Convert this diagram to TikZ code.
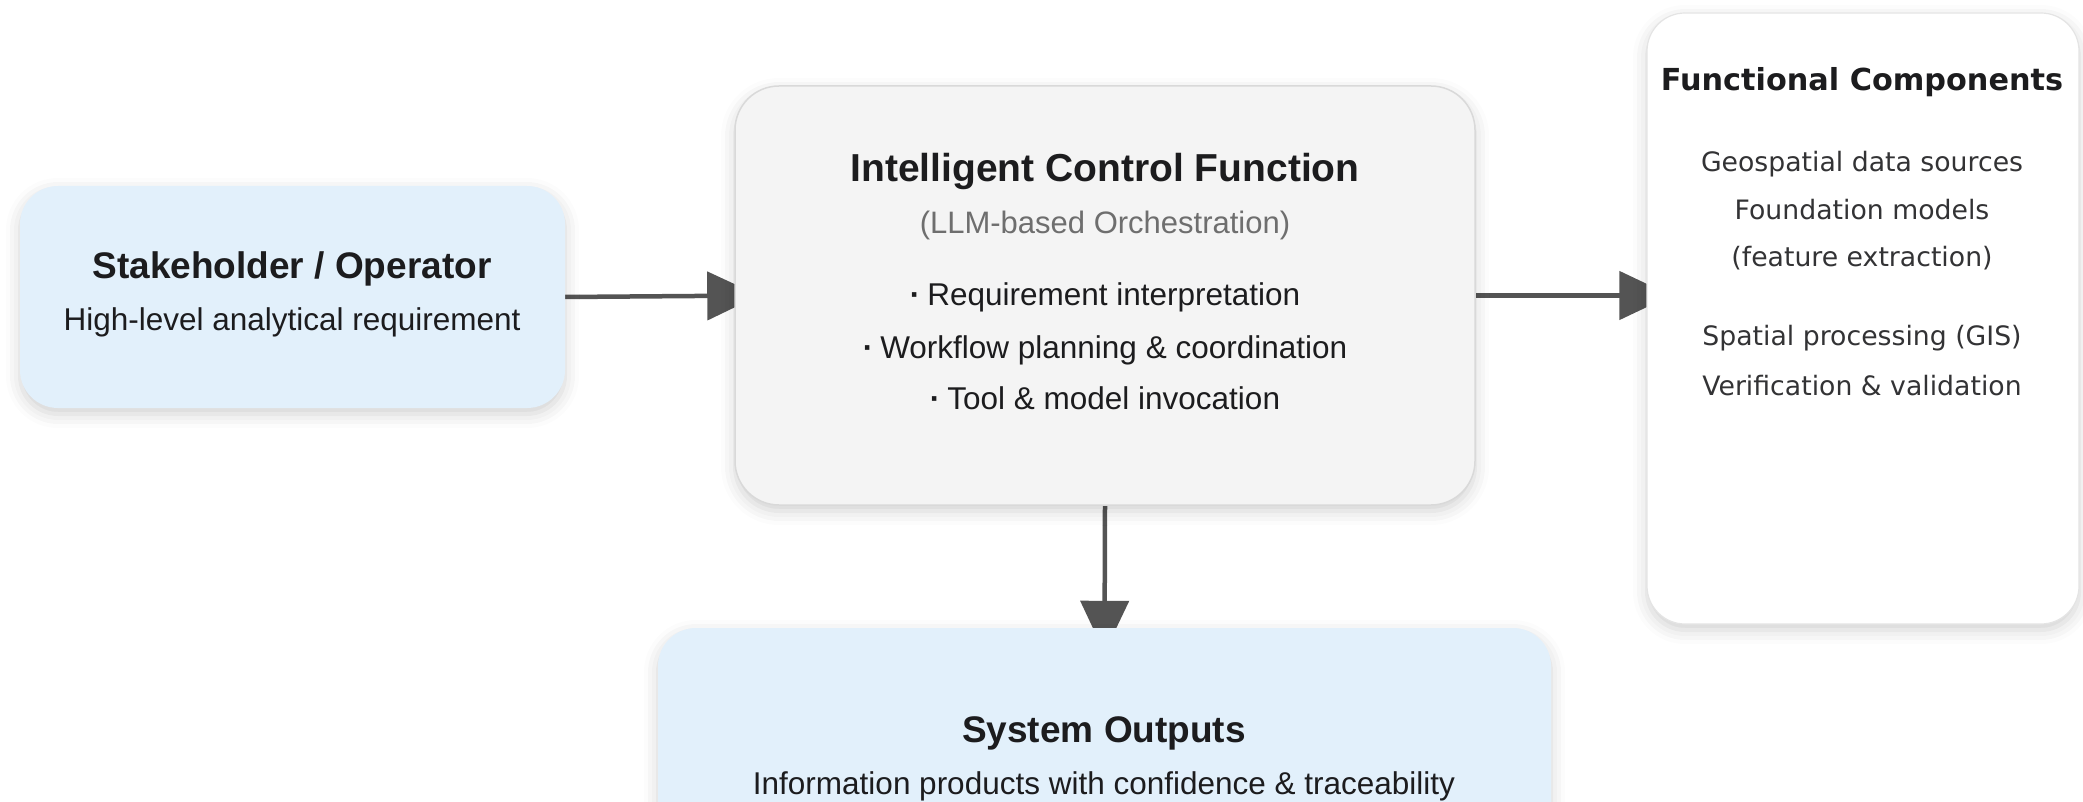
\documentclass[tikz,border=0pt]{standalone}
\usepackage{fontspec}
\setmainfont{Liberation Sans}
\newfontfamily\compfont{DejaVu Sans}
\usetikzlibrary{arrows.meta,shadows.blur,backgrounds}

\definecolor{inkdark}{HTML}{1C1C1E}
\definecolor{inkgrey}{HTML}{6E6E6E}
\definecolor{panelblue}{HTML}{E2F0FB}
\definecolor{panelgrey}{HTML}{F4F4F4}
\definecolor{edgegrey}{HTML}{D9D9D9}
\definecolor{flowgrey}{HTML}{545454}

% small centred dot used in the bullet list
\newcommand{\dotmark}{{\bfseries ·}\hspace{7pt}}

\begin{document}
\begin{tikzpicture}[x=1pt,y=-1pt,
  panel/.style={rectangle, inner sep=0pt, rounded corners=38pt,
    blur shadow={shadow xshift=0pt, shadow yshift=-6pt,
      shadow blur radius=14pt, shadow opacity=18}},
  bluepanel/.style={panel, fill=panelblue, draw=none},
  greypanel/.style={panel, fill=panelgrey, draw=edgegrey, line width=1.5pt},
  whitepanel/.style={panel, fill=white, draw=edgegrey!70, line width=1.2pt},
  title/.style={text=inkdark, font=\fontsize{37}{44}\selectfont\bfseries},
  body/.style={text=inkdark, font=\fontsize{31.5}{37}\selectfont},
  note/.style={text=inkgrey, font=\fontsize{31}{37}\selectfont},
  comptitle/.style={text=inkdark, font=\compfont\fontsize{30.3}{36}\selectfont\bfseries},
  compbody/.style={text=inkdark!90, font=\compfont\fontsize{26.7}{32}\selectfont},
  flow/.style={draw=flowgrey, line width=4.5pt,
    -{Triangle[length=52pt,width=48pt]}, fill=flowgrey}
]
\useasboundingbox (0,0) rectangle (2083,802);
\clip (0,0) rectangle (2083,802);

% panels
\node[bluepanel, minimum width=545pt, minimum height=222pt] (sh) at (292.5,297) {};
\node[greypanel, minimum width=740pt, minimum height=419pt, rounded corners=44pt] (icf) at (1105,295.5) {};
\node[whitepanel, minimum width=432pt, minimum height=611pt] (fc) at (1863,318.5) {};
\node[bluepanel, minimum width=893pt, minimum height=250pt] (so) at (1104.5,753) {};

% stakeholder texts
\node[title] (shT) at (292,269) {Stakeholder / Operator};
\node[body]  (shS) at (292,322) {High-level analytical requirement};

% control function texts
\node[title, font=\fontsize{39}{46}\selectfont\bfseries] (icfT) at (1105,172) {Intelligent Control Function};
\node[note]  (icfS) at (1105,225) {(LLM-based Orchestration)};
\node[body]  (icfA) at (1105,297) {\dotmark Requirement interpretation};
\node[body]  (icfB) at (1105,350) {\dotmark Workflow planning \& coordination};
\node[body]  (icfC) at (1105,398) {\dotmark Tool \& model invocation};

% functional component texts
\node[comptitle] (fcT) at (1862,82)  {Functional Components};
\node[compbody]  (fcA) at (1862,164) {Geospatial data sources};
\node[compbody]  (fcB) at (1862,210) {Foundation models};
\node[compbody]  (fcC) at (1862,258) {(feature extraction)};
\node[compbody]  (fcD) at (1862,338) {Spatial processing (GIS)};
\node[compbody]  (fcE) at (1862,386) {Verification \& validation};

% output texts
\node[title] (soT) at (1104,733) {System Outputs};
\node[body]  (soS) at (1104,786) {Information products with confidence \& traceability};

% connectors, tips tucked under the panels
\begin{scope}[on background layer]
  \draw[flow] (sh.east) -- ([xshift=25pt]icf.west);
  \draw[flow] (icf.east) -- ([xshift=25pt]icf.east -| fc.west);
  \draw[flow] (icf.south) -- ([yshift=-25pt]so.north);
\end{scope}
\end{tikzpicture}
\end{document}
